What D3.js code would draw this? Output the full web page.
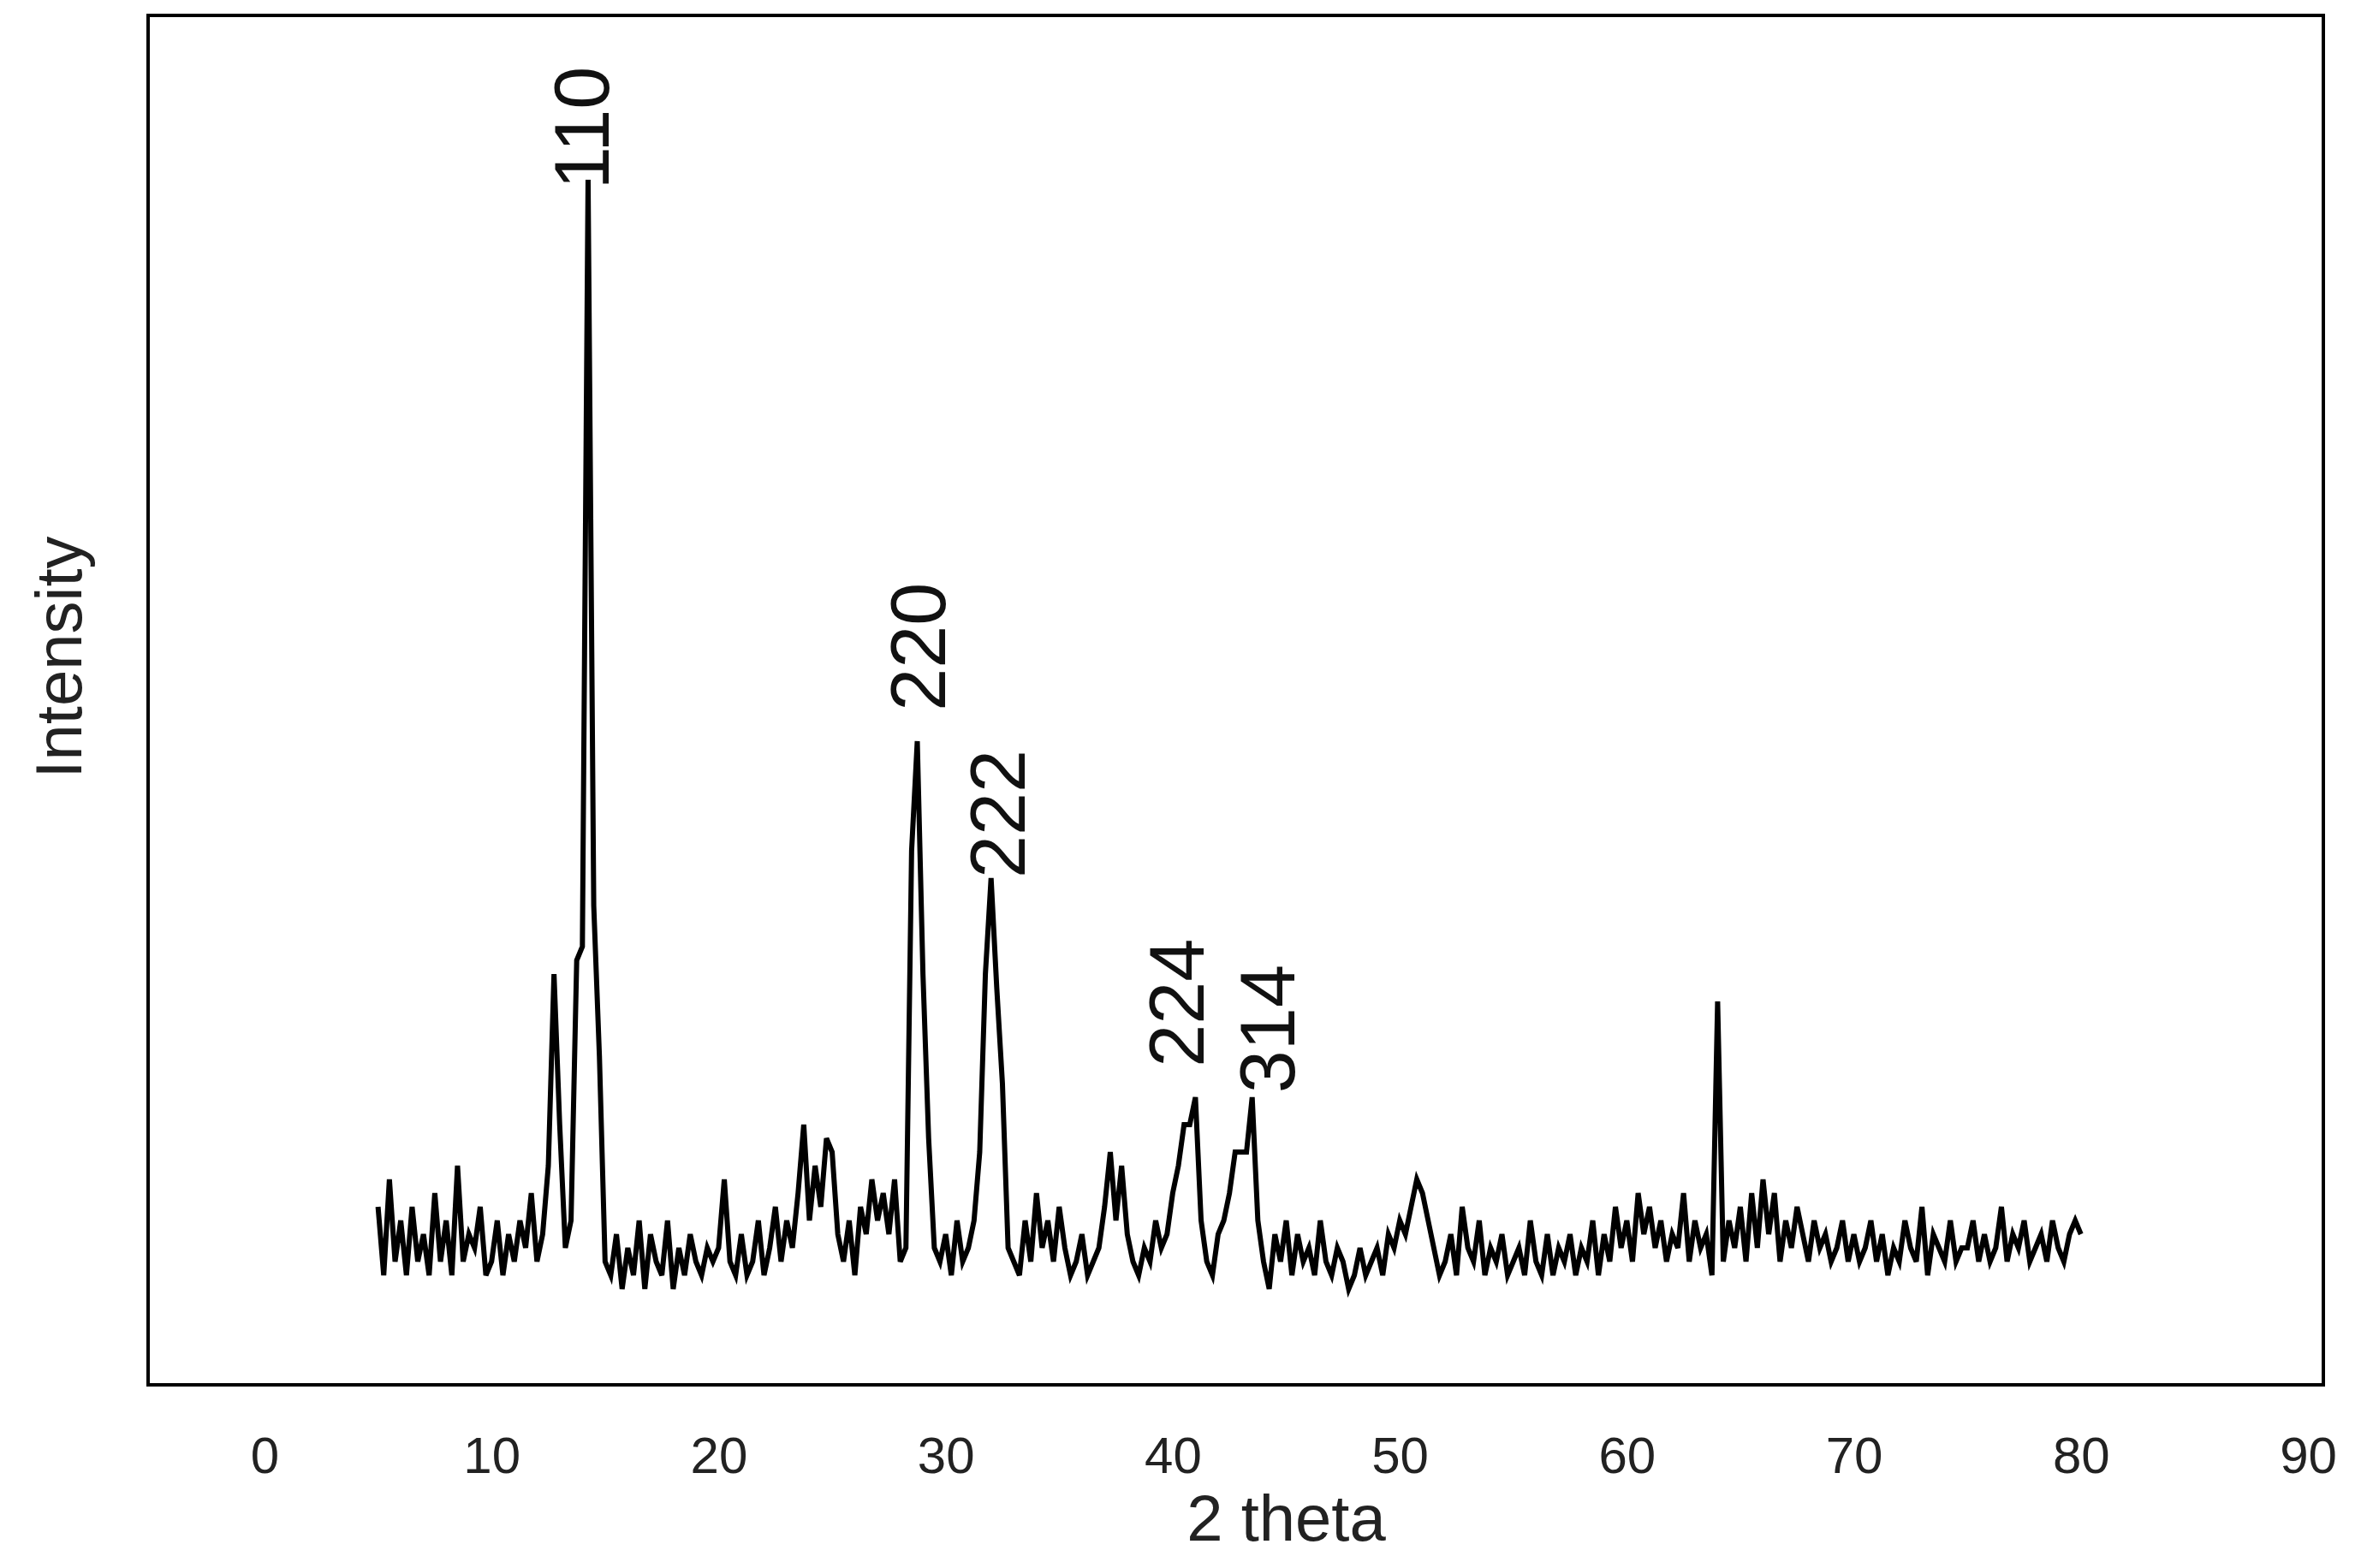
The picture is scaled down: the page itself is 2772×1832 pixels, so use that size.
<!DOCTYPE html>
<html><head><meta charset="utf-8">
<script src="https://cdn.jsdelivr.net/npm/d3@7"></script>
<style>body{margin:0;background:#fff}</style></head>
<body><svg id="c" width="2772" height="1832"></svg>
<script>
const xStart = 5, xStep = 0.25;
const intensity = [
13,8,15,9,12,8,13,9,11,8,14,9,12,8,16,9,11,10,13,8,
9,12,8,11,9,12,10,14,9,11,16,30,19,10,12,31,32,88,35,24,
9,8,11,7,10,8,12,7,11,9,8,12,7,10,8,11,9,8,10,9,
10,15,9,8,11,8,9,12,8,10,13,9,12,10,14,19,12,16,13,18,
17,11,9,12,8,13,11,15,12,14,11,15,9,10,39,47,30,18,10,9,
11,8,12,9,10,12,17,30,37,29,22,10,9,8,12,9,14,10,12,9,
13,10,8,9,11,8,9,10,13,17,12,16,11,9,8,10,9,12,10,11,
14,16,19,19,21,12,9,8,11,12,14,17,17,17,21,12,9,7,11,9,
12,8,11,9,10,8,12,9,8,10,9,7,8,10,8,9,10,8,11,10,
12,11,13,15,14,12,10,8,9,11,8,13,10,9,12,8,10,9,11,8,
9,10,8,12,9,8,11,8,10,9,11,8,10,9,12,8,11,9,13,10,
12,9,14,11,13,10,12,9,11,10,14,9,12,10,11,8,28,9,12,10,
13,9,14,10,15,11,14,9,12,10,13,11,9,12,10,11,9,10,12,9,
11,9,10,12,9,11,8,10,9,12,10,9,13,8,11,10,9,12,9,10,
10,12,9,11,9,10,13,9,11,10,12,9,10,11,9,12,10,9,11,12,11];
const peakLabels = ["110","220","222","224","314"];
const peakX = [14.0,28.8,32.3,40.2,44.2];
const peakY = [87.3,49.2,37.0,23.2,21.3];
const xTicks = [0,10,20,30,40,50,60,70,80,90];

const svg = d3.select("#c");
const L=173,R=2714,T=18,B=1618;
const x = d3.scaleLinear().domain([0,90]).range([309,2696]);
const y = d3.scaleLinear().domain([0,100]).range([B,T]);
const data = intensity.map((v,i)=>[xStart+i*xStep,v]);
svg.append("path").datum(data).attr("fill","none").attr("stroke","#000").attr("stroke-width",6)
 .attr("d",d3.line().x(d=>x(d[0])).y(d=>y(d[1])));
svg.append("rect").attr("x",L).attr("y",T).attr("width",R-L).attr("height",B-T)
 .attr("fill","none").attr("stroke","#000").attr("stroke-width",4);
const ax = svg.append("g").attr("transform",`translate(0,${B})`)
 .call(d3.axisBottom(x).tickValues(xTicks).tickSize(0).tickPadding(60));
ax.select(".domain").remove();
ax.selectAll("text").attr("font-family","Liberation Sans, Arial").attr("font-size",60).attr("fill","#222");
svg.append("text").attr("x",x(45)).attr("y",1800).attr("text-anchor","middle")
 .attr("font-family","Liberation Sans, Arial").attr("font-size",76).attr("fill","#222").text("2 theta");
svg.append("text").attr("transform",`translate(95,${(T+B)/2-50}) rotate(-90)`).attr("text-anchor","middle")
 .attr("font-family","Liberation Sans, Arial").attr("font-size",76).attr("fill","#222").text("Intensity");
peakLabels.forEach((t,i)=>{
 svg.append("text").attr("transform",`translate(${x(peakX[i])},${y(peakY[i])}) rotate(-90)`)
  .attr("dominant-baseline","central").attr("font-family","Liberation Sans, Arial")
  .attr("font-size",90).attr("fill","#111").text(t);
});
</script></body></html>
